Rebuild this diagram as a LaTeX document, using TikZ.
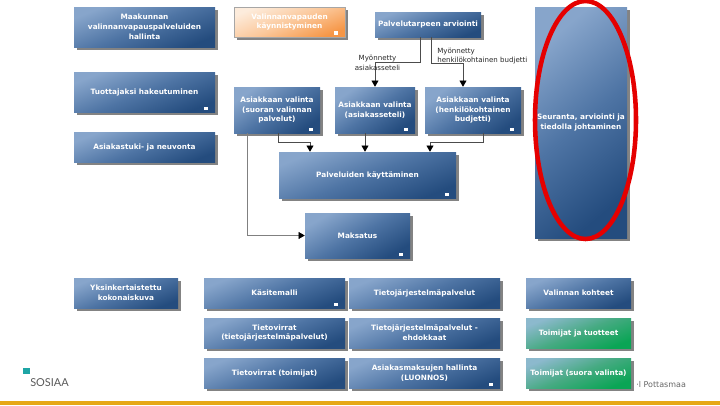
\documentclass[tikz,border=0pt]{standalone}
\usepackage{fontspec}
\setmainfont{DejaVu Sans}
\newfontfamily\logofont{Lato}
\usetikzlibrary{shapes,arrows.meta,positioning,calc,shadows}
\definecolor{boxlight}{RGB}{135,165,203}
\definecolor{boxmid}{RGB}{78,116,164}
\definecolor{boxdark}{RGB}{36,76,126}
\definecolor{orangelight}{RGB}{253,236,220}
\definecolor{orangemid}{RGB}{251,200,155}
\definecolor{orangedark}{RGB}{246,150,70}
\definecolor{greenlight}{RGB}{140,185,205}
\definecolor{greenmid}{RGB}{70,170,130}
\definecolor{greendark}{RGB}{10,165,85}
\definecolor{barcolor}{RGB}{230,168,23}
\definecolor{logoteal}{RGB}{30,165,165}
\newcommand{\px}{0.75pt}
\tikzset{
    boxsize/.style 2 args={
        minimum width=#1*\px,
        minimum height=#2*\px
    },
    procbox/.style={
        rectangle,
        inner sep=0pt,
        align=center,
        text=white,
        font=\fontsize{5.5}{7.4}\selectfont\bfseries,
        top color=boxlight,
        bottom color=boxdark,
        middle color=boxmid,
        shading angle=22,
        drop shadow={shadow xshift=2.4pt,shadow yshift=-2.4pt,fill=black!65,opacity=0.75}
    },
    startbox/.style={
        procbox,
        top color=orangelight,
        bottom color=orangedark,
        middle color=orangemid,
        shading angle=22,
        draw=black!35,
        line width=0.3pt
    },
    greenbox/.style={
        procbox,
        top color=greenlight,
        bottom color=greendark,
        middle color=greenmid,
        shading angle=22
    },
    notemark/.style={
        rectangle,
        fill=white,
        inner sep=0pt,
        minimum width=4*\px,
        minimum height=3.5*\px
    },
    flowline/.style={
        draw=black!70,
        line width=0.45pt,
        -{Triangle[width=5.2pt,length=4.6pt,color=black,fill=black]}
    },
    flowlabel/.style={
        inner sep=0pt,
        text=black!85,
        font=\fontsize{5.3}{7.4}\selectfont
    },
    ring/.style={
        ellipse,
        draw=red!90!black,
        line width=3.4pt,
        inner sep=0pt,
        fill=none
    }
}
\begin{document}
\begin{tikzpicture}[x=\px,y=-\px]
    \useasboundingbox (0,0) rectangle (720,405);
    % Left column
    \node[procbox,boxsize={141}{40}] (maakunta) at (144.5,27) {Maakunnan\\valinnanvapauspalveluiden\\hallinta};
    \node[procbox,boxsize={141}{40}] (tuottaja) at (144.5,92) {Tuottajaksi hakeutuminen};
    \node[procbox,boxsize={141}{30}] (tuki) at (144.5,147) {Asiakastuki- ja neuvonta};

    % Process
    \node[startbox,boxsize={111}{30}] (kaynnistys) at (289.5,22) {Valinnanvapauden\\käynnistyminen};
    \node[procbox,boxsize={106}{25}] (arviointi) at (428,24.5) {Palvelutarpeen arviointi};
    \node[procbox,boxsize={86}{46},shading angle=35] (suora) at (277,110) {Asiakkaan valinta\\(suoran valinnan\\palvelut)};
    \node[procbox,boxsize={80}{46},shading angle=35] (seteli) at (375,110) {Asiakkaan valinta\\(asiakasseteli)};
    \node[procbox,boxsize={96}{46},shading angle=35] (budjetti) at (473,110) {Asiakkaan valinta\\(henkilökohtainen\\budjetti)};
    \node[procbox,boxsize={177}{46}] (kaytto) at (367.5,175) {Palveluiden käyttäminen};
    \node[procbox,boxsize={105}{45},shading angle=30] (maksatus) at (357.5,235.5) {Maksatus};
    \node[procbox,boxsize={92}{231},shading angle=40] (seuranta) at (581,122.5) {Seuranta, arviointi ja\\tiedolla johtaminen};

    % Bottom rows
    \node[procbox,boxsize={104}{30}] (kuva) at (126,293) {Yksinkertaistettu\\kokonaiskuva};
    \node[procbox,boxsize={141}{30}] (kasite) at (274.5,293) {Käsitemalli};
    \node[procbox,boxsize={141}{30}] (virrat) at (274.5,333) {Tietovirrat\\(tietojärjestelmäpalvelut)};
    \node[procbox,boxsize={141}{30}] (virrattoim) at (274.5,373) {Tietovirrat (toimijat)};
    \node[procbox,boxsize={151}{30}] (jarjestelma) at (424.5,293) {Tietojärjestelmäpalvelut};
    \node[procbox,boxsize={151}{30}] (ehdokkaat) at (424.5,333) {Tietojärjestelmäpalvelut -\\ehdokkaat};
    \node[procbox,boxsize={151}{30}] (maksut) at (424.5,373) {Asiakasmaksujen hallinta\\(LUONNOS)};
    \node[procbox,boxsize={105}{30}] (kohteet) at (578.5,293) {Valinnan kohteet};
    \node[greenbox,boxsize={105}{30}] (tuotteet) at (578.5,333) {Toimijat ja tuotteet};
    \node[greenbox,boxsize={105}{30}] (toimijat) at (578.5,373) {Toimijat (suora valinta)};

    % Small markers
    \foreach \boxname in {kaynnistys,tuottaja,suora,seteli,budjetti,kaytto,maksatus,kasite,maksut}
        \node[notemark] (\boxname note) at ([shift={(-9,-4)}]\boxname.south east) {};

    % Connections
    \draw[flowline] ([xshift=-8*\px]arviointi.south) -- ++(0,25) -| (seteli.north);
    \draw[flowline] ([xshift=3*\px]arviointi.south) -- ++(0,26) -| ([xshift=-10*\px]budjetti.north);
    \draw[flowline] ([xshift=1*\px]suora.south) -- ++(0,9.5) -| ([xshift=-57.5*\px]kaytto.north);
    \draw[flowline] ([xshift=-10*\px]seteli.south) -- ([xshift=-2.5*\px]kaytto.north);
    \draw[flowline] ([xshift=10*\px]budjetti.south) -- ++(0,9.5) -| ([xshift=62.5*\px]kaytto.north);
    \draw[flowline,draw=black!50] ([xshift=-30*\px]suora.south) |- (maksatus.west);

    % Labels
    \node[flowlabel,align=center] (setelilabel) at (377.5,63) {Myönnetty\\asiakasseteli};
    \node[flowlabel,align=left,anchor=west] (budjettilabel) at (437,56) {Myönnetty\\henkilökohtainen budjetti};

    % Highlight
    \node[ring,boxsize={101}{238}] (korostus) at (585.5,120) {};

    % Footer
    \fill[barcolor] (0,401) rectangle (720,405);
    \fill[logoteal] (23,368) rectangle (30,374);
    \node[inner sep=0pt,anchor=west,text=black!65,font=\logofont\fontsize{8.2}{9}\selectfont] (logo) at (30,383) {SOSIAA};
    \node[inner sep=0pt,anchor=west,text=black!60,font=\fontsize{6}{7}\selectfont] (tekija) at (636,385) {·l Pottasmaa};
\end{tikzpicture}
\end{document}
